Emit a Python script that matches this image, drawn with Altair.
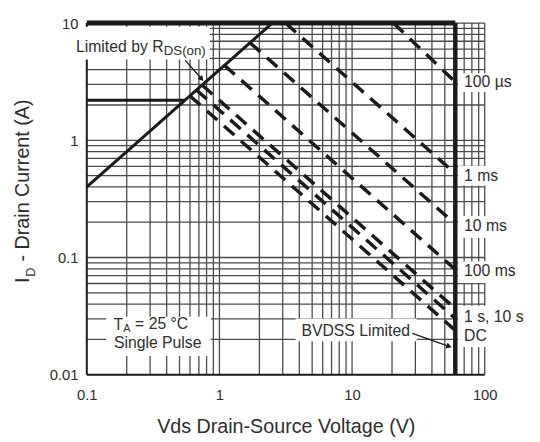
import altair as alt
import pandas as pd

# ---------------- data ----------------
tick_x = [0.1, 1, 10, 100]
tick_y = [0.01, 0.1, 1, 10]

grid_x = [0.2, 0.3, 0.4, 0.5, 0.6, 0.7, 0.8, 0.9,
          1, 2, 3, 4, 5, 6, 7, 8, 9,
          10, 20, 30, 40, 50, 60, 70, 80, 90, 100]
grid_y = [0.02, 0.03, 0.04, 0.05, 0.06, 0.07, 0.08, 0.09,
          0.1, 0.2, 0.3, 0.4, 0.5, 0.6, 0.7, 0.8, 0.9,
          1, 2, 3, 4, 5, 6, 7, 8, 9, 10]

bvdss_v = 60          # drain-source breakdown limit (V)
pulse_limit_i = 10    # pulsed current limit (A)

rds_v = [0.1, 2.5]    # R_DS(on) limit line
rds_i = [0.4, 10]
cont_v = [0.1, 0.55]  # continuous current limit
cont_i = [2.2, 2.2]

pulse_names = ["100 µs", "1 ms", "10 ms", "100 ms", "1 s", "10 s", "DC"]
pulse_v_start = [20.5, 3.15, 1.70, 1.09, 0.74, 0.67, 0.60]
pulse_i_start = [10, 10, 6.8, 4.36, 2.96, 2.69, 2.39]
pulse_v_end = [60, 60, 60, 60, 60, 60, 60]
pulse_i_end = [3.15, 0.52, 0.193, 0.079, 0.0366, 0.0302, 0.0239]

right_labels = ["100 µs", "1 ms", "10 ms", "100 ms", "1 s, 10 s", "DC"]

# ---------------- styling ----------------
FONT = "Liberation Sans"
INK = "#1a1a1a"
TXT = "#2e2e2e"
GRID = "#4a4a4a"

xs = alt.Scale(type="log", domain=[0.1, 100], nice=False)
ys = alt.Scale(type="log", domain=[0.01, 10], nice=False)

x_axis = alt.Axis(values=tick_x, format="~g", grid=False, ticks=False, domain=False,
                  labelFont=FONT, labelFontSize=15, labelColor=TXT, labelPadding=13,
                  labelFlush=False, labelOverlap=False, zindex=1,
                  title="Vds Drain-Source Voltage (V)", titleFont=FONT, titleFontSize=20,
                  titleFontWeight="normal", titleColor=TXT, titlePadding=15)
y_axis = alt.Axis(values=tick_y, format="~g", grid=False, ticks=False, domain=False,
                  labelFont=FONT, labelFontSize=15, labelColor=TXT, labelPadding=9,
                  labelFlush=False, labelOverlap=False, zindex=1, title=None)


def X(f):
    return alt.X(f, type="quantitative", scale=xs, axis=x_axis)


def Y(f):
    return alt.Y(f, type="quantitative", scale=ys, axis=y_axis)


# ---------------- grid ----------------
df_vg = pd.DataFrame({"v": grid_x, "lo": tick_y[0], "hi": tick_y[-1]})
df_hg = pd.DataFrame({"i": grid_y, "lo": tick_x[0], "hi": tick_x[-1]})
vgrid = alt.Chart(df_vg).mark_rule(color=GRID, strokeWidth=1.3).encode(
    x=X("v"), y=Y("lo"), y2=alt.Y2("hi"))
hgrid = alt.Chart(df_hg).mark_rule(color=GRID, strokeWidth=1.3).encode(
    x=X("lo"), x2=alt.X2("hi"), y=Y("i"))

df_frame = pd.DataFrame({"x0": [tick_x[0], tick_x[0]], "x1": [tick_x[0], tick_x[-1]],
                         "y0": [tick_y[0], tick_y[0]], "y1": [tick_y[-1], tick_y[0]]})
frame = alt.Chart(df_frame).mark_rule(color=INK, strokeWidth=2).encode(
    x=X("x0"), x2=alt.X2("x1"), y=Y("y0"), y2=alt.Y2("y1"))

# ---------------- white label backgrounds (annotation placement) ----------------
df_box = pd.DataFrame({
    "x0": [0.0787, 63, 63, 63, 63, 63, 0.14, 3.75],
    "x1": [0.848, 107, 107, 107, 107, 107, 0.86, 30.7],
    "y0": [9.3, 3.73, 0.605, 0.2254, 0.0926, 0.0387, 0.0313, 0.0302],
    "y1": [4.89, 2.58, 0.411, 0.147, 0.0605, 0.0172, 0.01445, 0.0193],
})
boxes = alt.Chart(df_box).mark_rect(color="white").encode(
    x=X("x0"), x2=alt.X2("x1"), y=Y("y0"), y2=alt.Y2("y1"))

# ---------------- limit lines ----------------
df_top = pd.DataFrame({"x0": [tick_x[0]], "x1": [bvdss_v], "y": [pulse_limit_i]})
top = alt.Chart(df_top).mark_rule(color=INK, strokeWidth=5).encode(
    x=X("x0"), x2=alt.X2("x1"), y=Y("y"))
df_bv = pd.DataFrame({"x": [bvdss_v], "y0": [tick_y[0]], "y1": [pulse_limit_i]})
bv = alt.Chart(df_bv).mark_rule(color=INK, strokeWidth=4.5).encode(
    x=X("x"), y=Y("y0"), y2=alt.Y2("y1"))
df_solid = pd.DataFrame({"x0": [rds_v[0], cont_v[0]], "x1": [rds_v[1], cont_v[1]],
                         "y0": [rds_i[0], cont_i[0]], "y1": [rds_i[1], cont_i[1]]})
solid = alt.Chart(df_solid).mark_rule(color=INK, strokeWidth=3).encode(
    x=X("x0"), x2=alt.X2("x1"), y=Y("y0"), y2=alt.Y2("y1"))

# ---------------- pulse lines ----------------
df_p = pd.DataFrame({"name": pulse_names, "x0": pulse_v_start, "x1": pulse_v_end,
                     "y0": pulse_i_start, "y1": pulse_i_end})
pulses = alt.Chart(df_p).mark_rule(color=INK, strokeWidth=3.5, strokeDash=[14, 9]).encode(
    x=X("x0"), x2=alt.X2("x1"), y=Y("y0"), y2=alt.Y2("y1"))

# ---------------- arrows ----------------
df_a1 = pd.DataFrame({"x0": [0.553], "x1": [0.727], "y0": [4.8], "y1": [3.38]})
a1 = alt.Chart(df_a1).mark_rule(color=INK, strokeWidth=1.3).encode(
    x=X("x0"), x2=alt.X2("x1"), y=Y("y0"), y2=alt.Y2("y1"))
a1h = alt.Chart(df_a1).mark_point(shape="triangle", filled=True, size=40, angle=138,
                                  color=INK, opacity=1).encode(x=X("x1"), y=Y("y1"))
df_a2 = pd.DataFrame({"x0": [28.5], "x1": [53.1], "y0": [0.0225], "y1": [0.01754]})
a2 = alt.Chart(df_a2).mark_rule(color=INK, strokeWidth=1.3).encode(
    x=X("x0"), x2=alt.X2("x1"), y=Y("y0"), y2=alt.Y2("y1"))
a2h = alt.Chart(df_a2).mark_point(shape="triangle", filled=True, size=40, angle=109,
                                  color=INK, opacity=1).encode(x=X("x1"), y=Y("y1"))

# ---------------- texts ----------------
def txt(s, v, i, size=16, align="left"):
    d = pd.DataFrame({"t": [s], "v": [v], "i": [i]})
    return alt.Chart(d).mark_text(font=FONT, fontSize=size, color=TXT, align=align,
                                  baseline="middle").encode(x=X("v"), y=Y("i"), text="t:N")


df_rl = pd.DataFrame({"t": right_labels, "v": 69.8,
                      "i": [3.13, 0.498, 0.186, 0.0763, 0.0313, 0.0213]})
rlabels = alt.Chart(df_rl).mark_text(font=FONT, fontSize=16, color=TXT, align="left",
                                     baseline="middle").encode(x=X("v"), y=Y("i"), text="t:N")

texts = [
    txt("Limited by R", 0.0829, 6.28, 16),
    txt("DS(on)", 0.38, 5.75, 13.5),
    txt("T", 0.1587, 0.0263, 16),
    txt("A", 0.188, 0.0243, 11),
    txt("= 25 °C", 0.2311, 0.0268, 16),
    txt("Single Pulse", 0.3424, 0.01858, 16, "center"),
    txt("BVDSS Limited", 10.65, 0.02344, 16, "center"),
]


def ytxt(s, x, y, size):
    d = pd.DataFrame({"t": [s]})
    return alt.Chart(d).mark_text(font=FONT, fontSize=size, color=TXT, align="left",
                                  baseline="middle", angle=270).encode(
        x=alt.value(x), y=alt.value(y), text="t:N")


ytitle = [ytxt("I", -65, 264, 20), ytxt("D", -57, 257.5, 13),
          ytxt("- Drain Current (A)", -65, 242, 20)]

chart = alt.layer(vgrid, hgrid, frame, boxes, top, bv, solid, pulses, a1, a1h, a2, a2h,
                  rlabels, *texts, *ytitle).properties(
    width=404, height=357,
    autosize=alt.AutoSizeParams(type="none"),
    padding={"left": 80, "top": 12, "right": 48, "bottom": 65},
    background="white",
).configure_view(stroke=None)

chart.save("out.html", embed_options={"renderer": "svg", "actions": False})
